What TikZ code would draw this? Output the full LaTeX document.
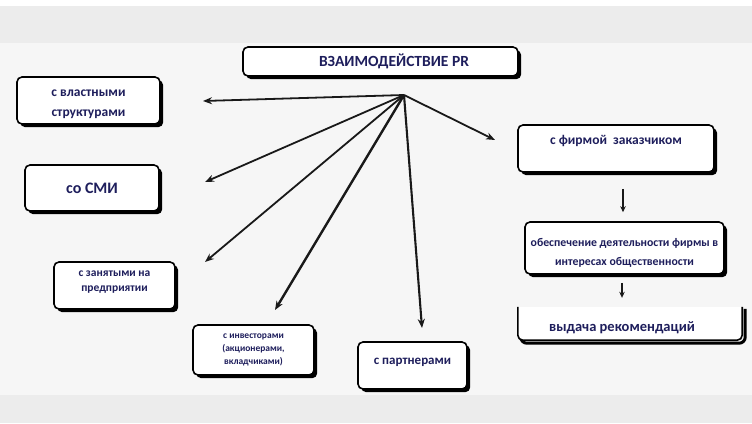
\documentclass[tikz,border=0pt]{standalone}
\usepackage{fontspec}
\setmainfont{Carlito}
\usetikzlibrary{arrows.meta,shadows}
\definecolor{ink}{HTML}{1E1E5C}
\definecolor{bandgray}{HTML}{ECECEC}
\definecolor{paper}{HTML}{F6F6F6}
\newcommand{\fs}[2]{\bfseries\fontsize{#1}{#2}\selectfont}
\begin{document}
\begin{tikzpicture}[x=1pt,y=-1pt,
  box/.style={draw=black, line width=1.6pt, rounded corners=5pt, fill=white,
    drop shadow={shadow xshift=3.2pt, shadow yshift=-3.2pt, fill=black, opacity=1},
    text=ink, align=center, inner sep=0pt},
  spoke/.style={draw=black!90, line width=1.8pt, -{Stealth[length=9pt,width=7pt]}},
  drop/.style={draw=black!90, line width=1.2pt, -{Stealth[length=6pt,width=5.5pt]}},
]
% page background
\useasboundingbox (0,0) rectangle (752,423);
\fill[white] (0,0) rectangle (752,423);
\fill[bandgray] (0,6) rectangle (752,43);
\fill[paper] (0,43) rectangle (752,395);
\fill[bandgray] (0,395) rectangle (752,423);

% title
\node[box, minimum width=275pt, minimum height=29pt, font=\fs{15.5}{18}] (title) at (380.5,61.5)
  {\hspace*{27pt}ВЗАИМОДЕЙСТВИЕ PR};
\coordinate (hub) at (404,95);

% partner boxes
\node[box, minimum width=143pt, minimum height=47pt, font=\fs{13.5}{20}] (gov) at (88.5,100.5)
  {\raisebox{-2pt}[\height][\depth]{\begin{tabular}{@{}c@{}}с властными\\структурами\end{tabular}}};
\node[box, minimum width=134pt, minimum height=46pt, font=\fs{16}{18}] (media) at (92,188)
  {со СМИ};
\node[box, minimum width=121pt, minimum height=47pt, font=\fs{11.5}{15}] (staff) at (114.5,285.5)
  {\raisebox{5pt}[\height][\depth]{\begin{tabular}{@{}c@{}}с занятыми на\\предприятии\end{tabular}}};
\node[box, minimum width=121pt, minimum height=50pt, font=\fs{9.5}{13}] (invest) at (253.5,350)
  {с инвесторами\\(акционерами,\\вкладчиками)};
\node[box, minimum width=109pt, minimum height=47pt, font=\fs{13}{15}] (partn) at (412.5,365.5)
  {\raisebox{3pt}[\height][\depth]{с партнерами}};
\node[box, minimum width=196pt, minimum height=47pt, font=\fs{13.5}{16}] (firm) at (616,148.5)
  {\raisebox{8pt}[\height][\depth]{с фирмой\ \ заказчиком}};
\node[box, minimum width=199pt, minimum height=52pt, font=\fs{11.8}{19}] (serve) at (624.5,248)
  {\raisebox{-4.5pt}[\height][\depth]{\begin{tabular}{@{}c@{}}обеспечение деятельности фирмы в\\интересах общественности\end{tabular}}};

% open frame for the last step
\node[minimum width=224pt, minimum height=33pt, inner sep=0pt] (advice) at (630,323.5) {};
\draw[black, line width=3pt, rounded corners=6pt]
  ([xshift=3pt,yshift=-14pt]advice.west) |- ([xshift=3pt,yshift=-3pt]advice.south east) -- ([xshift=3pt,yshift=-2pt]advice.north east);
\fill[white] (advice.north west) rectangle (advice.south east);
\draw[black, line width=1.6pt, rounded corners=5pt]
  (advice.north west) |- (advice.south east) -- (advice.north east);
\node[text=ink, font=\fs{14.5}{17}] (advicetext) at (622,328) {выдача рекомендаций};

% spokes from the hub
\coordinate (tgov) at (203,101);
\coordinate (tmedia) at (205,182);
\coordinate (tstaff) at (205,262);
\coordinate (tinvest) at (275,310);
\coordinate (tpartn) at (422,328);
\coordinate (tfirm) at (495,140);
\draw[spoke] (hub) -- (tgov);
\draw[spoke] (hub) -- (tmedia);
\draw[spoke] (hub) -- (tstaff);
\draw[spoke, line width=2.4pt] (hub) -- (tinvest);
\draw[spoke, line width=2.1pt] (hub) -- (tpartn);
\draw[spoke] (hub) -- (tfirm);

% chain on the right
\draw[drop, shorten <=16pt, shorten >=9pt] ([xshift=7pt]firm.south) -- ([xshift=7pt]firm.south |- serve.north);
\draw[drop, shorten <=8pt, shorten >=9pt] ([xshift=-2.5pt]serve.south) -- ([xshift=-2.5pt]serve.south |- advice.north);
\end{tikzpicture}
\end{document}
